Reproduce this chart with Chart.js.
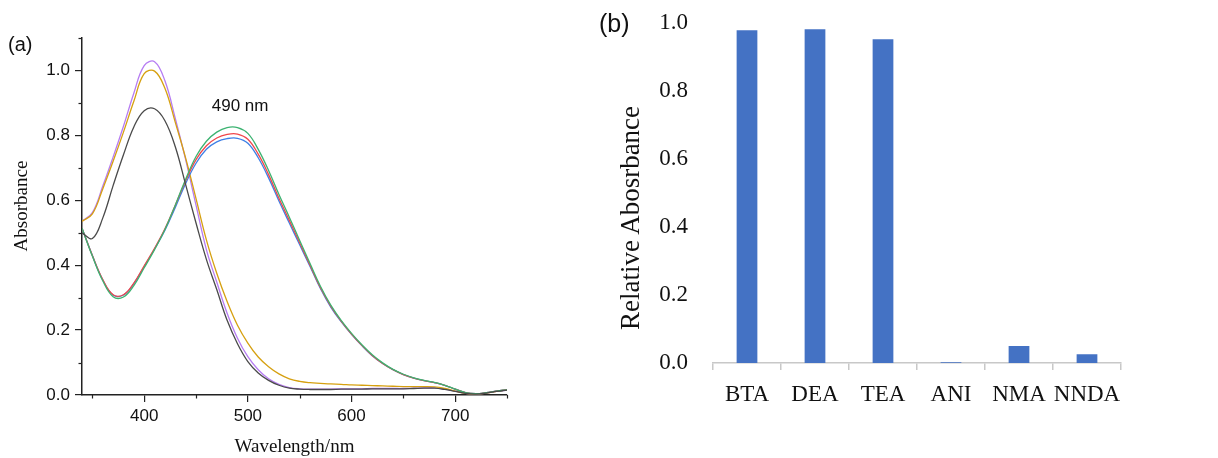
<!DOCTYPE html>
<html>
<head>
<meta charset="utf-8">
<script src="https://cdn.jsdelivr.net/npm/chart.js@4.4.1/dist/chart.umd.min.js"></script>
<style>
  body { margin: 0; background: #fff; }
  #wrap { position: relative; width: 1218px; height: 458px; overflow: hidden; }
  canvas { position: absolute; }
  #chartA { left: 0; top: 0; }
  #chartB { left: 600px; top: -8px; }
  .txt { position: absolute; white-space: nowrap; color: #111; line-height: 1; }
  .sans { font-family: "Liberation Sans", Arial, sans-serif; }
  .serif { font-family: "Liberation Serif", "Times New Roman", serif; }
  .vert { transform: translate(-50%, -50%) rotate(-90deg); }
</style>
</head>
<body>
<div id="wrap">
  <canvas id="chartA" width="520" height="458"></canvas>
  <canvas id="chartB" width="618" height="458"></canvas>
  <div class="txt sans" style="left:8px; top:34px; font-size:20px;">(a)</div>
  <div class="txt sans" style="left:599px; top:11px; font-size:25px;">(b)</div>
  <div class="txt serif vert" style="left:20px; top:206px; font-size:19px;">Absorbance</div>
  <div class="txt serif vert" style="left:630px; top:218px; font-size:27px;">Relative Abosrbance</div>
</div>
<script>
// ---- panel (a): absorption spectra ----
const wavelengths = [340, 350, 360, 370, 380, 390, 400, 410, 420, 430, 440, 450, 460, 470, 480, 490,
  500, 510, 520, 530, 540, 550, 560, 570, 580, 590, 600, 610, 620, 630, 640, 650, 660, 670, 680, 690,
  700, 710, 720, 730, 740, 750];

const purpleCurve = [0.535, 0.562, 0.643, 0.733, 0.828, 0.93, 1.015, 1.027, 0.968, 0.852, 0.725, 0.585, 0.448, 0.348, 0.252, 0.175,
  0.118, 0.078, 0.05, 0.033, 0.023, 0.019, 0.018, 0.018, 0.018, 0.019, 0.019, 0.019, 0.02, 0.02, 0.02, 0.02, 0.021, 0.022, 0.022, 0.018,
  0.012, 0.005, 0.003, 0.006, 0.011, 0.015];
const orangeCurve = [0.535, 0.558, 0.635, 0.72, 0.81, 0.905, 0.99, 0.998, 0.945, 0.84, 0.73, 0.605, 0.478, 0.375, 0.288, 0.215,
  0.16, 0.117, 0.087, 0.065, 0.05, 0.042, 0.038, 0.036, 0.034, 0.033, 0.031, 0.03, 0.029, 0.028, 0.027, 0.026, 0.026, 0.026, 0.025, 0.02,
  0.012, 0.005, 0.003, 0.006, 0.011, 0.016];
const blackCurve = [0.5, 0.482, 0.545, 0.645, 0.74, 0.826, 0.876, 0.882, 0.845, 0.765, 0.648, 0.53, 0.418, 0.325, 0.23, 0.158,
  0.103, 0.068, 0.045, 0.03, 0.021, 0.018, 0.017, 0.017, 0.017, 0.018, 0.018, 0.018, 0.019, 0.019, 0.019, 0.019, 0.02, 0.021, 0.021, 0.017,
  0.011, 0.005, 0.003, 0.006, 0.011, 0.015];
const greenCurve = [0.514, 0.428, 0.352, 0.303, 0.302, 0.337, 0.392, 0.448, 0.51, 0.585, 0.665, 0.735, 0.782, 0.81, 0.824, 0.824,
  0.806, 0.757, 0.692, 0.618, 0.548, 0.476, 0.405, 0.335, 0.277, 0.23, 0.19, 0.155, 0.124, 0.099, 0.079, 0.064, 0.053, 0.045, 0.039, 0.03,
  0.018, 0.007, 0.004, 0.007, 0.012, 0.016];
const redCurve = [0.514, 0.43, 0.356, 0.309, 0.309, 0.345, 0.398, 0.452, 0.512, 0.585, 0.66, 0.725, 0.768, 0.792, 0.803, 0.804,
  0.788, 0.742, 0.679, 0.606, 0.538, 0.469, 0.4, 0.331, 0.274, 0.228, 0.188, 0.153, 0.122, 0.097, 0.078, 0.063, 0.052, 0.044, 0.038, 0.03,
  0.018, 0.007, 0.004, 0.007, 0.012, 0.016];
const blueCurve = [0.514, 0.43, 0.355, 0.308, 0.308, 0.343, 0.396, 0.45, 0.508, 0.578, 0.652, 0.714, 0.757, 0.78, 0.79, 0.791,
  0.776, 0.731, 0.669, 0.598, 0.53, 0.463, 0.396, 0.328, 0.271, 0.226, 0.187, 0.152, 0.121, 0.097, 0.078, 0.063, 0.052, 0.044, 0.038, 0.03,
  0.018, 0.007, 0.004, 0.007, 0.012, 0.016];

const xMajorTicks = [400, 500, 600, 700];
const xMinorTicks = [350, 450, 550, 650, 750];
const yMajorTicks = [0, 0.2, 0.4, 0.6, 0.8, 1.0];
const yMinorTicks = [0.1, 0.3, 0.5, 0.7, 0.9, 1.1];

// ---- panel (b): relative absorbance ----
const amines = ["BTA", "DEA", "TEA", "ANI", "NMA", "NNDA"];
const relAbsorbance = [0.978, 0.981, 0.952, 0.002, 0.05, 0.026];

const SANS = '"Liberation Sans", Arial, sans-serif';
const SERIF = '"Liberation Serif", "Times New Roman", serif';

// short minor tick marks, placed with the chart's own scales
const minorTicks = {
  id: "minorTicks",
  afterDraw(chart, args, opts) {
    const ctx = chart.ctx;
    const xs = chart.scales.x, ys = chart.scales.y;
    ctx.save();
    ctx.strokeStyle = opts.color;
    ctx.lineWidth = opts.width;
    opts.x.forEach(v => {
      const px = Math.round(xs.getPixelForValue(v)) + 0.5;
      ctx.beginPath(); ctx.moveTo(px, xs.top); ctx.lineTo(px, xs.top + opts.length); ctx.stroke();
    });
    opts.y.forEach(v => {
      const py = Math.round(ys.getPixelForValue(v)) + 0.5;
      ctx.beginPath(); ctx.moveTo(ys.right, py); ctx.lineTo(ys.right - opts.length, py); ctx.stroke();
    });
    ctx.restore();
  }
};

// "490 nm" note, anchored in data units
const peakNote = {
  id: "peakNote",
  afterDatasetsDraw(chart, args, opts) {
    const ctx = chart.ctx;
    ctx.save();
    ctx.font = opts.font;
    ctx.fillStyle = "#111";
    ctx.textAlign = "center";
    ctx.textBaseline = "middle";
    ctx.fillText(opts.text, chart.scales.x.getPixelForValue(opts.x), chart.scales.y.getPixelForValue(opts.y));
    ctx.restore();
  }
};

function toPoints(ys) {
  return wavelengths.map((w, i) => ({ x: w, y: ys[i] }));
}

function curve(ys, color) {
  return {
    data: toPoints(ys),
    borderColor: color,
    borderWidth: 1.3,
    pointRadius: 0,
    tension: 0.4,
    fill: false
  };
}

new Chart(document.getElementById("chartA"), {
  type: "line",
  data: {
    datasets: [
      curve(blackCurve, "#4a4a4a"),
      curve(greenCurve, "#3cb371"),
      curve(redCurve, "#f0474b"),
      curve(blueCurve, "#3d7fe6"),
      curve(orangeCurve, "#d6a010"),
      curve(purpleCurve, "#b67cf2")
    ]
  },
  plugins: [minorTicks, peakNote],
  options: {
    responsive: false,
    animation: false,
    devicePixelRatio: 1,
    layout: { padding: { top: 38, right: 13, bottom: 0, left: 0 } },
    plugins: {
      legend: { display: false },
      tooltip: { enabled: false },
      minorTicks: { x: xMinorTicks, y: yMinorTicks, length: 3.5, color: "#222", width: 1.2 },
      peakNote: { text: "490 nm", x: 492.5, y: 0.89, font: "17px " + SANS }
    },
    scales: {
      x: {
        type: "linear",
        min: 340,
        max: 750,
        afterBuildTicks: s => { s.ticks = xMajorTicks.map(v => ({ value: v })); },
        afterFit: s => { s.height = 63; },
        border: { display: true, color: "#222", width: 1.5 },
        grid: { drawOnChartArea: false, drawTicks: true, tickLength: 7, color: "#222", lineWidth: 1.2 },
        ticks: { color: "#111", font: { family: SANS, size: 17 }, padding: 4, maxRotation: 0 },
        title: { display: true, text: "Wavelength/nm", color: "#111", font: { family: SERIF, size: 19 }, padding: { top: 0, bottom: 0 } }
      },
      y: {
        type: "linear",
        min: 0,
        max: 1.1,
        afterBuildTicks: s => { s.ticks = yMajorTicks.map(v => ({ value: v })); },
        afterFit: s => { s.width = 82; },
        border: { display: true, color: "#222", width: 1.5 },
        grid: { drawOnChartArea: false, drawTicks: true, tickLength: 7, color: "#222", lineWidth: 1.2 },
        ticks: { color: "#111", font: { family: SANS, size: 17 }, padding: 5, callback: v => v.toFixed(1) }
      }
    }
  }
});

new Chart(document.getElementById("chartB"), {
  type: "bar",
  data: {
    labels: amines,
    datasets: [{
      data: relAbsorbance,
      backgroundColor: "#4472c4",
      barPercentage: 0.305,
      categoryPercentage: 1
    }]
  },
  options: {
    responsive: false,
    animation: false,
    devicePixelRatio: 1,
    layout: { padding: { top: 1, right: 97, bottom: 0, left: 0 } },
    plugins: { legend: { display: false }, tooltip: { enabled: false } },
    scales: {
      x: {
        afterFit: s => { s.height = 87; },
        border: { display: true, color: "#c8c8c8", width: 1.5 },
        grid: { display: true, offset: true, drawOnChartArea: false, tickLength: 7, color: "#c8c8c8", lineWidth: 1.5 },
        ticks: { color: "#111", font: { family: SERIF, size: 23 }, padding: 11, maxRotation: 0, autoSkip: false }
      },
      y: {
        min: 0,
        max: 1.0,
        afterFit: s => { s.width = 113; },
        border: { display: false },
        grid: { display: false },
        ticks: { stepSize: 0.2, color: "#111", font: { family: SERIF, size: 23 }, padding: 17, callback: v => v.toFixed(1) }
      }
    }
  }
});
</script>
</body>
</html>
